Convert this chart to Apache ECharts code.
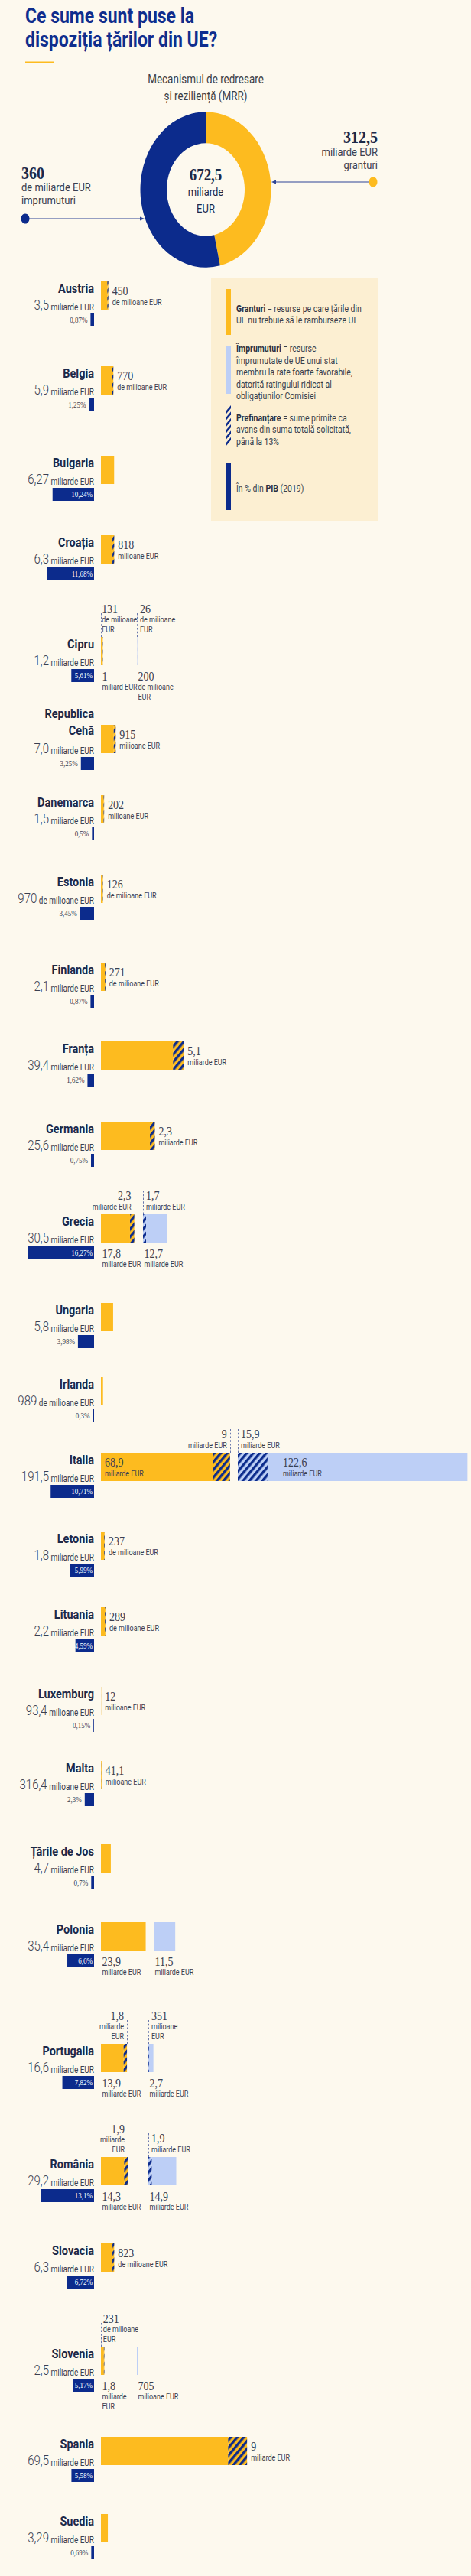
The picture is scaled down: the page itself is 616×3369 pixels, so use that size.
<!DOCTYPE html>
<html lang="ro">
<head>
<meta charset="utf-8">
<title>Ce sume sunt puse la dispoziția țărilor din UE?</title>
<script src="https://cdn.jsdelivr.net/npm/echarts@6/dist/echarts.min.js"></script>
<style>
html,body{margin:0;padding:0;background:#fdf9ee;overflow:hidden;}
#wrap{position:relative;width:616px;height:3369px;overflow:hidden;background:#fdf9ee;}
#chart{position:absolute;left:0;top:0;width:616px;transform-origin:0 0;}
</style>
</head>
<body>
<div id="wrap"><div id="chart"></div></div>
<script>
// ================= DATA =================
const mrrLabels = ['granturi', 'împrumuturi'];
const mrrValues = [312.5, 360];

const countries = ['Austria','Belgia','Bulgaria','Croația','Cipru','Republica Cehă','Danemarca','Estonia','Finlanda','Franța','Germania','Grecia','Ungaria','Irlanda','Italia','Letonia','Lituania','Luxemburg','Malta','Țările de Jos','Polonia','Portugalia','România','Slovacia','Slovenia','Spania','Suedia'];
const totalNum = ['3,5','5,9','6,27','6,3','1,2','7,0','1,5','970','2,1','39,4','25,6','30,5','5,8','989','191,5','1,8','2,2','93,4','316,4','4,7','35,4','16,6','29,2','6,3','2,5','69,5','3,29'];
const totalUnit = ['miliarde EUR','miliarde EUR','miliarde EUR','miliarde EUR','miliarde EUR','miliarde EUR','miliarde EUR','de milioane EUR','miliarde EUR','miliarde EUR','miliarde EUR','miliarde EUR','miliarde EUR','de milioane EUR','miliarde EUR','miliarde EUR','miliarde EUR','milioane EUR','milioane EUR','miliarde EUR','miliarde EUR','miliarde EUR','miliarde EUR','miliarde EUR','miliarde EUR','miliarde EUR','miliarde EUR'];
// % of GDP (2019)
const gdpShare = [0.87,1.25,10.24,11.68,5.61,3.25,0.5,3.45,0.87,1.62,0.75,16.27,3.98,0.3,10.71,5.99,4.59,0.15,2.3,0.7,6.6,7.82,13.1,6.72,5.17,5.58,0.69];
// billions EUR
const grants = [3.5,5.9,6.27,6.3,1.0,7.0,1.5,0.97,2.1,39.4,25.6,17.8,5.8,0.989,68.9,1.8,2.2,0.0934,0.3164,4.7,23.9,13.9,14.3,6.3,1.8,69.5,3.29];
const loans = [0,0,0,0,0.2,0,0,0,0,0,0,12.7,0,0,122.6,0,0,0,0,0,11.5,2.7,14.9,0,0.705,0,0];
const prefinGrants = [0.45,0.77,0,0.818,0.131,0.915,0.202,0.126,0.271,5.1,2.3,2.3,0,0,9,0.237,0.289,0.012,0.0411,0,0,1.8,1.9,0.823,0.231,9,0];
const prefinLoans = [0,0,0,0,0.026,0,0,0,0,0,0,1.7,0,0,15.9,0,0,0,0,0,0,0.351,1.9,0,0,0,0];

// label texts
const prefinGrantNum = ['450','770','','818','131','915','202','126','271','5,1','2,3','2,3','','','9','237','289','12','41,1','','','1,8','1,9','823','231','9',''];
const prefinGrantUnit = ['de milioane EUR','de milioane EUR','','milioane EUR','de milioane\nEUR','milioane EUR','milioane EUR','de milioane EUR','de milioane EUR','miliarde EUR','miliarde EUR','miliarde EUR','','','miliarde EUR','de milioane EUR','de milioane EUR','milioane EUR','milioane EUR','','','miliarde\nEUR','miliarde\nEUR','de milioane EUR','de milioane\nEUR','miliarde EUR',''];
const prefinLoanNum = ['','','','','26','','','','','','','1,7','','','15,9','','','','','','','351','1,9','','','',''];
const prefinLoanUnit = ['','','','','de milioane\nEUR','','','','','','','miliarde EUR','','','miliarde EUR','','','','','','','milioane\nEUR','miliarde EUR','','','',''];
const grantValNum = ['','','','','1','','','','','','','17,8','','','68,9','','','','','','23,9','13,9','14,3','','1,8','',''];
const grantValUnit = ['','','','','miliard EUR','','','','','','','miliarde EUR','','','miliarde EUR','','','','','','miliarde EUR','miliarde EUR','miliarde EUR','','miliarde\nEUR','',''];
const loanValNum = ['','','','','200','','','','','','','12,7','','','122,6','','','','','','11,5','2,7','14,9','','705','',''];
const loanValUnit = ['','','','','de milioane\nEUR','','','','','','','miliarde EUR','','','miliarde EUR','','','','','','miliarde EUR','miliarde EUR','miliarde EUR','','milioane EUR','',''];

// ================= LAYOUT (reference pixels) =================
const rowTop = [368,479,596,700,833,948,1040,1144,1259,1362,1467,1588,1704,1801,1900,2003,2102,2206,2303,2412,2514,2673,2821,2934,3069,3187,3288];
const loanLeft = [0,0,0,0,179,0,0,0,0,0,0,187,0,0,311,0,0,0,0,0,201,194,194,0,179,0,0];
const aboveAtStart = [4, 24];   // prefinancing label placed at bar start
const valuesInside = [14];      // value labels inside the bars

// ================= STYLE =================
const YEL='#fdbb1f', NAVY='#0c2b8c', LBLUE='#bdcff6', INK='#1c2949', TXT='#3b4050', LEG='#fcefd2';
const SANS='Roboto, "Noto Sans", "Liberation Sans", sans-serif';
const SERIF='"Liberation Serif", "DejaVu Serif", serif';
const S = 1.19, H = 3369 / S, Y = v => v / S;
const BAR = 37, BAR_X = 132, GDP_R = 123, RIGHT = 616;
const PPB_ONE = 2.75, PPB_TWO = 2.45, PPP = 5.3;
const HATCH = {symbol:'rect', symbolSize:1, color:NAVY, dashArrayX:[1,0], dashArrayY:[3,3], rotation:-Math.PI/4};

const chartDom = document.getElementById('chart');
chartDom.style.height = H + 'px';
chartDom.style.transform = 'scaleY(' + S + ')';

const grids = [], xAxes = [], yAxes = [], series = [], G = [], dashSpecs = [];
function addGrid(left, top, width, height, max, inverse) {
  const idx = grids.length;
  grids.push({left, top, width, height, containLabel:false});
  xAxes.push({type:'value', gridIndex:idx, min:0, max, inverse:!!inverse, show:false});
  yAxes.push({type:'category', gridIndex:idx, data:[''], show:false});
  return idx;
}
function lab(num, unit, align) {
  const a = align || 'left';
  return {
    formatter: '{n|' + num + '}\n' + unit.split('\n').map(l => '{u|' + l + '}').join('\n'),
    rich: {
      n:{fontFamily:SERIF, fontSize:14, lineHeight:14, color:TXT, align:a},
      u:{fontFamily:SANS, fontSize:9, lineHeight:10.5, color:TXT, align:a}
    }
  };
}
function bar(g, stack, val, color, decal, label) {
  const it = {color};
  if (decal) it.decal = decal;
  return {type:'bar', xAxisIndex:g, yAxisIndex:g, stack, barWidth:'100%', silent:true,
    data:[val], itemStyle:it, label: label ? Object.assign({show:true}, label) : {show:false}};
}
function txt(x, y, text, o) {
  o = o || {};
  const al = o.al || 'left';
  const st = Object.assign({text, fill:TXT, fontFamily:SANS, fontSize:12,
    textAlign:al, align:al, textVerticalAlign:'middle', verticalAlign:'middle'}, o);
  delete st.al;
  return {type:'text', x, y, silent:true, style:st};
}
const pct = v => String(v).replace('.', ',') + '%';
const BELOW = {position:['0%','100%'], offset:[1.5, Y(5.5)], align:'left', verticalAlign:'top'};
const ABOVE_L = off => ({position:['0%', 0], offset:[off, -Y(4)], align:'left', verticalAlign:'bottom'});

countries.forEach((name, i) => {
  const T = rowTop[i];
  const two = loans[i] > 0;
  const ppb = two ? PPB_TWO : PPB_ONE;
  const inside = valuesInside.includes(i);

  // ---- grants bar ----
  const gw = RIGHT - BAR_X;
  const g = addGrid(BAR_X, Y(T), gw, Y(BAR), gw / ppb);
  const plainVal = +(grants[i] - prefinGrants[i]).toFixed(4);
  let plainLab = null, preLab = null;
  if (!two) {
    if (prefinGrantNum[i]) preLab = Object.assign({position:'right', distance:5}, lab(prefinGrantNum[i], prefinGrantUnit[i]));
  } else {
    plainLab = inside
      ? Object.assign({position:'insideLeft', distance:5}, lab(grantValNum[i], grantValUnit[i]))
      : Object.assign({}, BELOW, lab(grantValNum[i], grantValUnit[i]));
    if (prefinGrantNum[i]) {
      if (aboveAtStart.includes(i)) {
        preLab = Object.assign(ABOVE_L(-1), lab(prefinGrantNum[i], prefinGrantUnit[i]));
        dashSpecs.push({axis:g, value:0, top:T-31, bottom:T});
      } else {
        preLab = Object.assign({position:['100%', 0], offset:[-4, -Y(4)], align:'right', verticalAlign:'bottom'}, lab(prefinGrantNum[i], prefinGrantUnit[i], 'right'));
        dashSpecs.push({axis:g, value:grants[i], top:T-31, bottom:T});
      }
    }
  }
  series.push(bar(g, 'g' + i, plainVal, YEL, null, plainLab));
  series.push(bar(g, 'g' + i, prefinGrants[i], YEL, HATCH, preLab));

  // ---- loans bar ----
  if (two) {
    const lw = RIGHT - loanLeft[i];
    const l = addGrid(loanLeft[i], Y(T), lw, Y(BAR), lw / ppb);
    const valLab = lab(loanValNum[i], loanValUnit[i]);
    const restVal = +(loans[i] - prefinLoans[i]).toFixed(4);
    const hasPre = prefinLoans[i] > 0;
    if (hasPre) dashSpecs.push({axis:l, value:0, top:T-31, bottom:T});
    if (inside) {
      series.push(bar(l, 'l' + i, prefinLoans[i], LBLUE, HATCH, Object.assign(ABOVE_L(4), lab(prefinLoanNum[i], prefinLoanUnit[i]))));
      series.push(bar(l, 'l' + i, restVal, LBLUE, null, Object.assign({position:'insideLeft', distance:20}, valLab)));
    } else if (hasPre) {
      // hatched part carries the value below; the rest carries the prefinancing label shifted back to the bar start
      const preW = prefinLoans[i] * ppb;
      series.push(bar(l, 'l' + i, prefinLoans[i], LBLUE, HATCH, Object.assign({}, BELOW, valLab)));
      series.push(bar(l, 'l' + i, restVal, LBLUE, null, Object.assign(ABOVE_L(4 - preW), lab(prefinLoanNum[i], prefinLoanUnit[i]))));
    } else {
      series.push(bar(l, 'l' + i, prefinLoans[i], LBLUE, HATCH, null));
      series.push(bar(l, 'l' + i, restVal, LBLUE, null, Object.assign({}, BELOW, valLab)));
    }
  }

  // ---- GDP share bar (grows leftwards) ----
  const p = addGrid(0, Y(T + 42), GDP_R, Y(17), GDP_R / PPP, true);
  const big = gdpShare[i] >= 4.5;
  series.push({type:'bar', xAxisIndex:p, yAxisIndex:p, barWidth:'100%', silent:true, data:[gdpShare[i]],
    itemStyle:{color:NAVY},
    label:{show:true, position: big ? 'insideRight' : 'left', distance: big ? 2 : 4,
      color: big ? '#ffffff' : TXT, fontFamily:SERIF, fontSize:9, formatter: pct(gdpShare[i])}});

  // ---- left texts ----
  const nm = i === 5 ? name.replace(' ', '\n') : name;
  G.push(txt(GDP_R, Y(i === 5 ? T - 4 : T + 9), nm, {al:'right', fontWeight:'bold', fontSize:14.5, fill:INK, lineHeight:19}));
  G.push(txt(GDP_R, Y(T + 31), '{n|' + totalNum[i] + '} {u|' + totalUnit[i] + '}', {al:'right', fontSize:10,
    rich:{n:{fontFamily:SANS, fontWeight:300, fontSize:15, lineHeight:15, verticalAlign:'bottom', fill:TXT},
          u:{fontFamily:SANS, fontSize:10, lineHeight:10, verticalAlign:'bottom', fill:TXT}}}));
});

// ---- donut ----
series.push({type:'pie', center:[269, Y(248)], radius:[51, 85.5], startAngle:90, clockwise:true, silent:true,
  label:{show:false}, labelLine:{show:false},
  data: mrrValues.map((v, k) => ({name:mrrLabels[k], value:v, itemStyle:{color: k === 0 ? YEL : NAVY, borderWidth:0}}))});

const fmt = v => String(v).replace('.', ',');
const mrrTotal = mrrValues[0] + mrrValues[1];

// title
G.push(txt(33, Y(36.5), 'Ce sume sunt puse la\ndispoziția țărilor din UE?', {fontSize:23, fontWeight:'bold', fill:'#0f2e8e', lineHeight:26}));
G.push({type:'rect', silent:true, shape:{x:33, y:Y(80.5), width:38, height:Y(2.5)}, style:{fill:YEL}});
// donut texts
G.push(txt(269, Y(115), 'Mecanismul de redresare\nși reziliență (MRR)', {al:'center', fontSize:13.5, lineHeight:18.5, fill:'#3d3f45'}));
G.push(txt(269, Y(228), fmt(mrrTotal.toFixed(1)), {al:'center', fontFamily:SERIF, fontWeight:'bold', fontSize:19, fill:INK}));
G.push(txt(269, Y(251), 'miliarde', {al:'center', fontSize:13, fill:INK}));
G.push(txt(269, Y(273), 'EUR', {al:'center', fontSize:13, fill:INK}));
G.push(txt(494, Y(179), fmt(mrrValues[0]), {al:'right', fontFamily:SERIF, fontWeight:'bold', fontSize:20, fill:INK}));
G.push(txt(494, Y(199), 'miliarde EUR', {al:'right', fontSize:13, fill:TXT}));
G.push(txt(494, Y(216), mrrLabels[0], {al:'right', fontSize:13, fill:TXT}));
G.push(txt(28, Y(226), fmt(mrrValues[1]), {fontFamily:SERIF, fontWeight:'bold', fontSize:20, fill:INK}));
G.push(txt(28, Y(245), 'de miliarde EUR', {fontSize:13, fill:TXT}));
G.push(txt(28, Y(262), mrrLabels[1], {fontSize:13, fill:TXT}));
const LN = '#2f4596';
G.push({type:'line', silent:true, shape:{x1:483, y1:Y(238), x2:358, y2:Y(238)}, style:{stroke:LN, lineWidth:1}});
G.push({type:'polygon', silent:true, shape:{points:[[355, Y(238)], [361, Y(238) - 2], [361, Y(238) + 2]]}, style:{fill:LN}});
G.push({type:'circle', silent:true, shape:{cx:488, cy:Y(238), r:5.5}, style:{fill:YEL}});
G.push({type:'line', silent:true, shape:{x1:38, y1:Y(286), x2:186, y2:Y(286)}, style:{stroke:LN, lineWidth:1}});
G.push({type:'polygon', silent:true, shape:{points:[[189, Y(286)], [183, Y(286) - 2], [183, Y(286) + 2]]}, style:{fill:LN}});
G.push({type:'circle', silent:true, shape:{cx:33, cy:Y(286), r:5.5}, style:{fill:NAVY}});

// legend box
G.push({type:'rect', silent:true, z:-1, shape:{x:276, y:Y(363), width:218, height:Y(318)}, style:{fill:LEG}});
G.push({type:'rect', silent:true, shape:{x:295, y:Y(378), width:7, height:Y(60)}, style:{fill:YEL}});
G.push({type:'rect', silent:true, shape:{x:295, y:Y(453), width:7, height:Y(62)}, style:{fill:LBLUE}});
G.push({type:'rect', silent:true, shape:{x:295, y:Y(605), width:7, height:Y(62)}, style:{fill:NAVY}});
(function () {
  const x0 = 295, w = 7, top = Y(530), bot = Y(592), t = 3.3, p = 7;
  for (let yb = top + w + t; yb <= bot + 0.01; yb += p) {
    G.push({type:'polygon', silent:true, shape:{points:[[x0, yb], [x0, yb - t], [x0 + w, yb - t - w], [x0 + w, yb - w]]}, style:{fill:NAVY}});
  }
})();
const LR = {b:{fontWeight:'bold', fontSize:10.5, fontFamily:SANS, fill:'#2b3040', lineHeight:13}};
G.push(txt(309, Y(411), '{b|Granturi} = resurse pe care țările din\nUE nu trebuie să le ramburseze UE', {fontSize:10.5, lineHeight:13, fill:'#3a3f4c', rich:LR}));
G.push(txt(309, Y(487), '{b|Împrumuturi} = resurse\nîmprumutate de UE unui stat\nmembru la rate foarte favorabile,\ndatorită ratingului ridicat al\nobligațiunilor Comisiei', {fontSize:10.5, lineHeight:13, fill:'#3a3f4c', rich:LR}));
G.push(txt(309, Y(562), '{b|Prefinanțare} = sume primite ca\navans din suma totală solicitată,\npână la 13%', {fontSize:10.5, lineHeight:13, fill:'#3a3f4c', rich:LR}));
G.push(txt(309, Y(639), 'În % din {b|PIB} (2019)', {fontSize:10.5, lineHeight:13, fill:'#3a3f4c', rich:LR}));

const chart = echarts.init(chartDom, null, {renderer:'svg', width:616, height:H});
chart.setOption({animation:false, backgroundColor:'transparent', textStyle:{fontFamily:SANS},
  grid:grids, xAxis:xAxes, yAxis:yAxes, series});

dashSpecs.forEach(d => {
  const x = Math.round(chart.convertToPixel({xAxisIndex:d.axis}, d.value)) + 0.5;
  G.push({type:'line', silent:true, shape:{x1:x, y1:Y(d.top), x2:x, y2:Y(d.bottom)},
    style:{stroke:'#6a78ad', lineWidth:1, lineDash:[2, 2]}});
});
chart.setOption({graphic:{elements:G}});
</script>
</body>
</html>
